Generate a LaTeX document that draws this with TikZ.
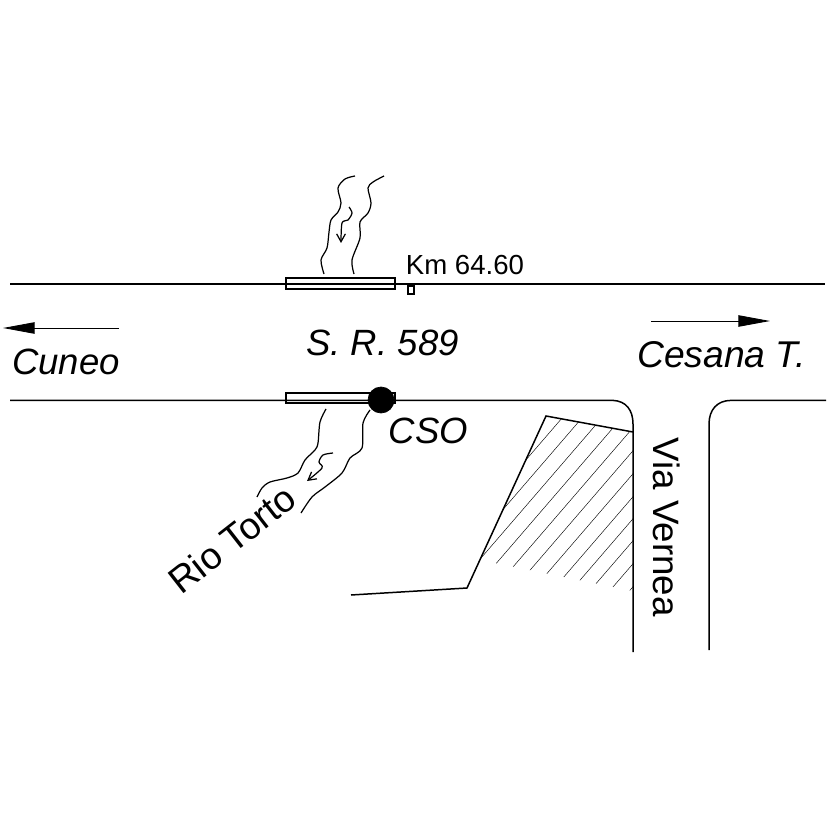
\documentclass[tikz,border=0pt]{standalone}
\usepackage{fontspec}
\setmainfont{Liberation Sans}
\usetikzlibrary{arrows.meta}

\tikzset{
	road/.style={line width=0.85pt},
	stream/.style={line width=0.7pt, smooth},
	flow/.style={line width=0.7pt, smooth, -{Straight Barb[length=4.5pt,width=5pt]}},
	dirarrow/.style={line width=0.5pt, -{Triangle[length=18pt,width=6.5pt]}},
	hatchline/.style={line width=0.25pt},
	bigtext/.style={font=\fontsize{20.8}{24}\selectfont\itshape, inner sep=0pt},
	slanttext/.style={font=\fontsize{21.3}{24}\selectfont, inner sep=0pt},
}

\begin{document}
\begin{tikzpicture}[x=0.02cm, y=-0.02cm]
	\useasboundingbox (0,0) rectangle (827,827);

	% labels
	\node[font=\fontsize{15.7}{18}\selectfont, inner sep=0pt](KM) at (465,265){Km 64.60};
	\node[bigtext](SR) at (382.5,342.5){S. R. 589};
	\node[bigtext](CUNEO) at (66,362){Cuneo};
	\node[bigtext, font=\fontsize{21.2}{24}\selectfont\itshape](CESANA) at (721.5,355){Cesana T.};
	\node[bigtext](CSO) at (428.5,431){CSO};
	\node[slanttext, rotate=38](TORTO) at (232,539){Rio Torto};
	\node[slanttext, font=\fontsize{20.9}{24}\selectfont, rotate=-90](VERNEA) at (667,527){Via Vernea};

	% roads
	\draw[road] (10,284) -- (825,284);
	\draw[road] (10,400.4) -- (613,400.4) .. controls (626,401) and (633,410) .. (633,424) -- (633,652);
	\draw[road] (709,650) -- (709,424) .. controls (709,410) and (717,400.4) .. (731,400.4) -- (826,400.4);

	% bridges
	\draw[road] (286,278) rectangle (395,289);
	\draw[road] (286,393) rectangle (395,403);
	\draw[road] (408,286) rectangle (414,294);
	\node[circle, fill=black, draw=black, minimum size=0.52cm, inner sep=0pt](CSOPT) at (381,400){};

	% upper stream
	\draw[stream] plot coordinates {(355,176) (345,179) (338,188) (341,203) (338,212) (331,220) (329,232) (327,248) (321,260) (324,274)};
	\draw[stream] plot coordinates {(384,176) (373,182) (368,188) (371,203) (368,213) (360,222) (360,238) (352,260) (354,274)};
	\draw[flow] plot coordinates {(349,207) (352,213) (348,220) (342,223) (341,243)};

	% lower stream
	\draw[stream] plot coordinates {(326,409) (320,422) (318,443) (315,450) (305,460) (298,473) (287,478) (270,482) (262,488) (257,497)};
	\draw[stream] plot coordinates {(370,410) (363,423) (362,448) (350,458) (342,473) (325,487) (312,497) (301,513)};
	\draw[flow] plot coordinates {(333,453) (323,455) (319,462) (322,468) (307,481)};

	% directions
	\coordinate (L1) at (119,328);
	\coordinate (L2) at (3,328);
	\coordinate (R1) at (651,321);
	\coordinate (R2) at (770,321);
	\draw[dirarrow] (L1) -- (L2);
	\draw[dirarrow] (R1) -- (R2);

	% embankment
	\draw[road] (351,595) -- (467,588) -- (546,416) -- (633,432);
	\begin{scope}
		\clip (546,416) -- (633,432) -- (633,591) -- (480,560) -- cycle;
		\foreach \c in {1070,1093,1116,1139,1162,1185,1208,1231,1253,1275,1298,1321}
			\draw[hatchline] (440,{\c-1.16*440}) -- (650,{\c-1.16*650});
	\end{scope}
\end{tikzpicture}
\end{document}
